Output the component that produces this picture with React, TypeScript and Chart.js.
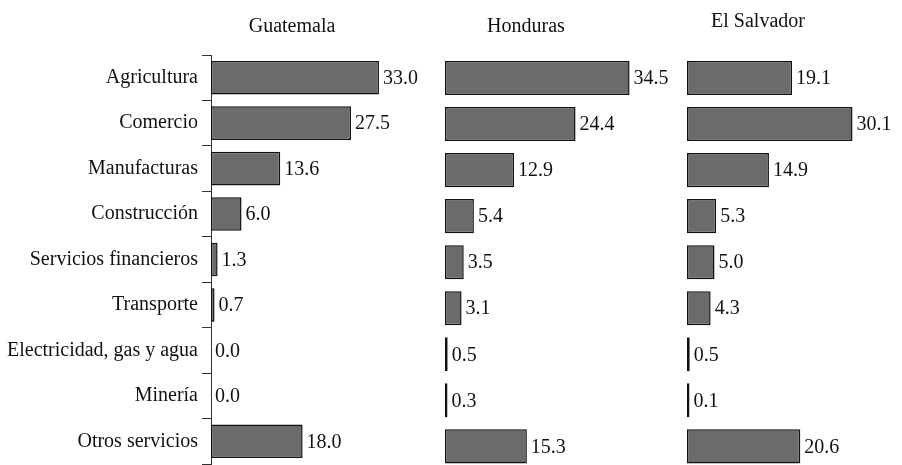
import React, { useEffect, useRef } from "react";
import { Chart, registerables } from "chart.js";

Chart.register(...registerables);

const categories = [
  "Agricultura",
  "Comercio",
  "Manufacturas",
  "Construcción",
  "Servicios financieros",
  "Transporte",
  "Electricidad, gas y agua",
  "Minería",
  "Otros servicios",
];

const countries = ["Guatemala", "Honduras", "El Salvador"];

const guatemala = [33.0, 27.5, 13.6, 6.0, 1.3, 0.7, 0.0, 0.0, 18.0];
const honduras = [34.5, 24.4, 12.9, 5.4, 3.5, 3.1, 0.5, 0.3, 15.3];
const elSalvador = [19.1, 30.1, 14.9, 5.3, 5.0, 4.3, 0.5, 0.1, 20.6];

const seriesValues = [guatemala, honduras, elSalvador];

const FONT = "'Liberation Serif'";
const W = 902;
const H = 480;

// layout per panel (style only)
const panels = [
  { left: 0, axisWidth: 211, right: 414.6, xMax: 40, titleX: 292, titleY: 32 },
  { left: 445, axisWidth: 0, right: 659, xMax: 40, titleX: 526, titleY: 32 },
  { left: 687, axisWidth: 0, right: 885, xMax: 36, titleX: 758, titleY: 27 },
];

function Panel({ index }: { index: number }) {
  const ref = useRef<HTMLCanvasElement | null>(null);
  useEffect(() => {
    let chart: Chart | null = null;
    let cancelled = false;
    const build = () => {
      if (cancelled || !ref.current) return;
      const p = panels[index];
      const valuesLabelPlugin = {
        id: "valueLabels" + index,
        afterDatasetsDraw(c: any) {
          const ctx = c.ctx;
          const meta = c.getDatasetMeta(0);
          const data = c.data.datasets[0].data as number[];
          ctx.save();
          ctx.font = `20px ${FONT}`;
          ctx.fillStyle = "#111";
          ctx.textAlign = "left";
          ctx.textBaseline = "middle";
          meta.data.forEach((bar: any, i: number) => {
            const end = data[i] === 0 ? bar.base : bar.x;
            ctx.fillText(data[i].toFixed(1), end + 4, bar.y + 1);
          });
          ctx.textAlign = "center";
          ctx.textBaseline = "alphabetic";
          ctx.fillText(countries[index], p.titleX, p.titleY);
          ctx.restore();
        },
      };
      chart = new Chart(ref.current, {
        type: "bar",
        data: {
          labels: categories,
          datasets: [
            {
              label: countries[index],
              data: seriesValues[index],
              backgroundColor: (ctx: any) =>
                ctx.raw === 0 ? "rgba(0,0,0,0)" : "#6b6b6b",
              borderColor: (ctx: any) =>
                ctx.raw === 0 ? "rgba(0,0,0,0)" : "#111111",
              borderWidth: 1.5,
              borderSkipped: false,
              minBarLength: 2.5,
              barPercentage: 0.74,
              categoryPercentage: 1,
            },
          ],
        },
        options: {
          indexAxis: "y",
          responsive: false,
          animation: false,
          layout: {
            padding: {
              top: 55,
              bottom: H - 469.4,
              left: p.left,
              right: W - p.right,
            },
          },
          plugins: {
            legend: { display: false },
            tooltip: { enabled: false },
            title: { display: false },
          },
          scales: {
            x: {
              type: "linear",
              min: 0,
              max: p.xMax,
              display: false,
            },
            y: {
              type: "category",
              display: index === 0,
              offset: true,
              afterFit: (scale: any) => {
                if (index === 0) scale.width = p.axisWidth;
              },
              grid: {
                display: true,
                offset: true,
                drawOnChartArea: false,
                drawTicks: true,
                tickLength: 9,
                color: "#333",
                lineWidth: 1,
              },
              border: { display: true, color: "#333", width: 1 },
              ticks: {
                padding: 4,
                color: "#111",
                font: { family: FONT, size: 20 },
              },
            },
          },
        },
        plugins: [valuesLabelPlugin],
      });
    };
    const fontsApi = (document as any).fonts;
    if (fontsApi && fontsApi.load) {
      fontsApi
        .load(`20px ${FONT}`)
        .then(build, build);
    } else {
      build();
    }
    return () => {
      cancelled = true;
      if (chart) chart.destroy();
    };
  }, [index]);
  return (
    <canvas
      ref={ref}
      width={W}
      height={H}
      style={{ position: "absolute", left: 0, top: 0, width: W, height: H }}
    />
  );
}

export default function App() {
  return (
    <div
      style={{
        position: "fixed",
        left: 0,
        top: 0,
        width: W,
        height: 465,
        overflow: "hidden",
        background: "#fff",
        fontFamily: FONT,
      }}
    >
      <Panel index={0} />
      <Panel index={1} />
      <Panel index={2} />
    </div>
  );
}
